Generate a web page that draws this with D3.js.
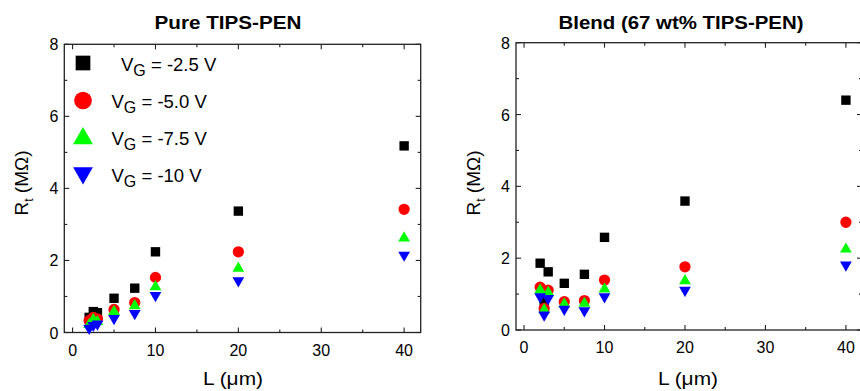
<!DOCTYPE html>
<html>
<head>
<meta charset="utf-8">
<script src="https://cdn.jsdelivr.net/npm/d3@7"></script>
<style>
  body { margin: 0; background: #fff; }
  text { font-family: "Liberation Sans", Arial, sans-serif; fill: #000; }
</style>
</head>
<body>
<div id="grafico"></div>
<script>
// Dati: lunghezza di canale L (um) e resistenza R_t (MOhm)
var lunghezze = [2, 2.5, 3, 5, 7.5, 10, 20, 40];
var serie = ["-2.5", "-5.0", "-7.5", "-10"];
var colori = ["#000000", "#ff0000", "#00ff00", "#0000ff"];

// Pannello sinistro: TIPS-PEN puro
var puro_25 = [0.42, 0.58, 0.55, 0.95, 1.23, 2.24, 3.37, 5.18];
var puro_50 = [0.33, 0.42, 0.38, 0.64, 0.83, 1.53, 2.24, 3.42];
var puro_75 = [0.22, 0.36, 0.30, 0.58, 0.74, 1.27, 1.78, 2.62];
var puro_10 = [0.12, 0.20, 0.24, 0.39, 0.53, 1.03, 1.44, 2.15];

// Pannello destro: blend al 67 wt%
var blend_25 = [1.86, 0.79, 1.62, 1.30, 1.55, 2.58, 3.59, 6.40];
var blend_50 = [1.19, 0.60, 1.11, 0.79, 0.82, 1.39, 1.76, 3.00];
var blend_75 = [1.11, 0.56, 1.04, 0.72, 0.74, 1.14, 1.37, 2.25];
var blend_10 = [0.93, 0.42, 0.88, 0.58, 0.54, 0.93, 1.11, 1.81];

var xTicks = [0, 10, 20, 30, 40];
var xMinor = [5, 15, 25, 35];
var yTicks = [0, 2, 4, 6, 8];
var yMinor = [1, 3, 5, 7];

var svg = d3.select("#grafico")
  .append("svg")
  .attr("width", 860)
  .attr("height", 391);

var forme = [d3.symbolSquare, d3.symbolCircle, d3.symbolTriangle, d3.symbolTriangle];
var dimDati = [88, 100, 60, 60];
var dimLegenda = [216, 246, 170, 170];

function marker(g, i, size, cx, cy) {
  g.append("path")
    .attr("d", d3.symbol().type(forme[i]).size(size)())
    .attr("transform", "translate(" + cx + "," + cy + ")" + (i == 3 ? " rotate(180)" : ""))
    .attr("fill", colori[i]);
}

function pannello(p) {
  var x = d3.scaleLinear().domain([-1, 42]).range([p.x0, p.x1]);
  var y = d3.scaleLinear().domain([0, 8]).range([p.y0, p.y1]);
  var g = svg.append("g");

  // cornice
  g.append("rect")
    .attr("x", p.x0).attr("y", p.y1)
    .attr("width", p.x1 - p.x0).attr("height", p.y0 - p.y1)
    .attr("fill", "none").attr("stroke", "#222").attr("stroke-width", 1.3);

  // tacche verso l'interno su tutti i lati
  function tacche(valori, lung) {
    valori.forEach(function (v) {
      g.append("line").attr("x1", x(v)).attr("x2", x(v)).attr("y1", p.y0).attr("y2", p.y0 - lung);
      g.append("line").attr("x1", x(v)).attr("x2", x(v)).attr("y1", p.y1).attr("y2", p.y1 + lung);
    });
  }
  function taccheY(valori, lung) {
    valori.forEach(function (v) {
      g.append("line").attr("x1", p.x0).attr("x2", p.x0 + lung).attr("y1", y(v)).attr("y2", y(v));
      g.append("line").attr("x1", p.x1).attr("x2", p.x1 - lung).attr("y1", y(v)).attr("y2", y(v));
    });
  }
  tacche(xTicks, 5); tacche(xMinor, 3);
  taccheY(yTicks, 5); taccheY(yMinor, 3);
  g.selectAll("line").attr("stroke", "#222").attr("stroke-width", 1.1);

  // etichette delle tacche
  g.selectAll(".tx").data(xTicks).enter().append("text")
    .attr("x", function (d) { return x(d); })
    .attr("y", p.y0 + 23)
    .attr("text-anchor", "middle")
    .style("font-size", "16px")
    .text(function (d) { return d; });
  g.selectAll(".ty").data(yTicks).enter().append("text")
    .attr("x", p.x0 - 6)
    .attr("y", function (d) { return y(d) + 6; })
    .attr("text-anchor", "end")
    .style("font-size", "16px")
    .text(function (d) { return d; });

  // titoli
  g.append("text")
    .attr("x", p.tx).attr("y", 29)
    .attr("text-anchor", "middle")
    .attr("textLength", p.tw).attr("lengthAdjust", "spacingAndGlyphs")
    .style("font-size", "18px").style("font-weight", "bold")
    .text(p.titolo);
  g.append("text")
    .attr("x", p.lx).attr("y", 385)
    .attr("text-anchor", "middle")
    .attr("textLength", 60).attr("lengthAdjust", "spacingAndGlyphs")
    .style("font-size", "19px")
    .text("L (\u03bcm)");
  var yl = g.append("text")
    .attr("transform", "translate(" + (p.x0 - 36) + ",183) rotate(-90)")
    .attr("text-anchor", "middle")
    .style("font-size", "19px");
  yl.append("tspan").text("R");
  yl.append("tspan").attr("dy", 5).style("font-size", "12px").text("t");
  yl.append("tspan").attr("dy", -5).text(" (M\u03a9)");

  // punti, dal nero al blu
  p.dati.forEach(function (valori, i) {
    valori.forEach(function (v, k) {
      marker(g, i, dimDati[i], x(lunghezze[k]), y(v));
    });
  });
  return g;
}

var gSx = pannello({x0: 64.3, x1: 420.7, y0: 332.5, y1: 44.3, tx: 228, tw: 147, lx: 233,
  titolo: "Pure TIPS-PEN", dati: [puro_25, puro_50, puro_75, puro_10]});
pannello({x0: 516, x1: 862, y0: 330, y1: 42.7, tx: 681, tw: 245, lx: 688,
  titolo: "Blend (67 wt% TIPS-PEN)", dati: [blend_25, blend_50, blend_75, blend_10]});

// legenda nel pannello sinistro
var righe = [63, 100.5, 137, 174.5];
serie.forEach(function (s, i) {
  marker(gSx, i, dimLegenda[i], 83, righe[i] + (i == 2 ? 1.5 : i == 3 ? -1.5 : 0));
  var t = gSx.append("text")
    .attr("x", i == 0 ? 121 : 111.5)
    .attr("y", righe[i] + 7.5)
    .style("font-size", "18.5px");
  t.append("tspan").text("V");
  t.append("tspan").attr("dy", 5).style("font-size", "16px").text("G");
  t.append("tspan").attr("dy", -5).text(" = " + s + " V");
});
</script>
</body>
</html>
